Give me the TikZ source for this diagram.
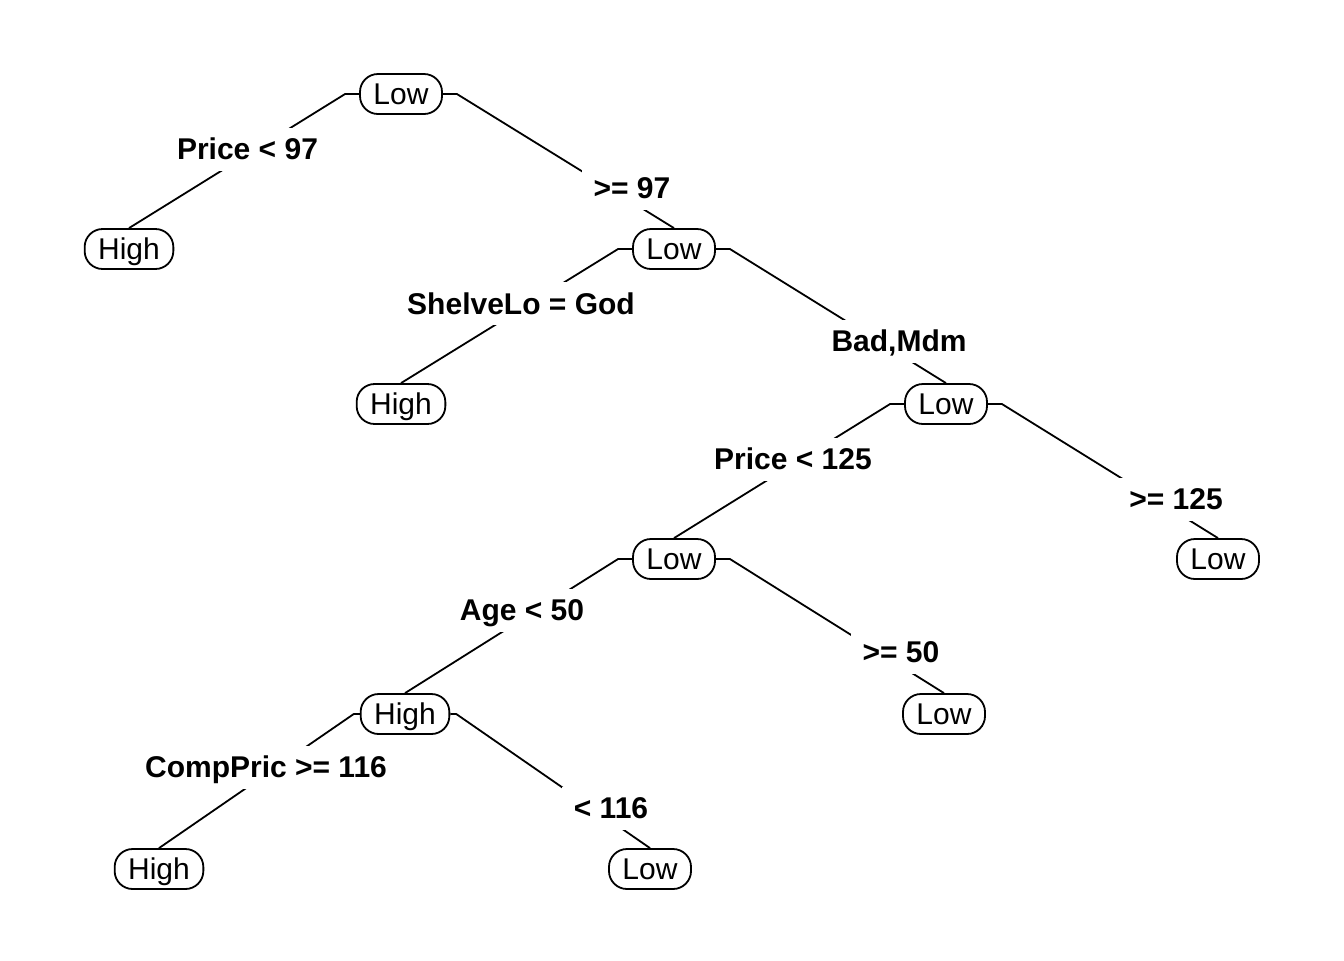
\documentclass[tikz,border=0pt]{standalone}
\usepackage{fontspec}
\setmainfont{Liberation Sans}
\usepackage{tikz}
\usetikzlibrary{positioning,shapes}

\tikzset{
    leaf/.style={draw, line width=0.9pt, rounded corners=9pt, fill=white,
        inner xsep=6.75pt, inner ysep=0pt, minimum height=20pt,
        text height=10.7pt, text depth=0pt,
        font=\fontsize{15pt}{18pt}\selectfont},
    split/.style={fill=white, inner xsep=6pt, inner ysep=5.4pt,
        text height=10.7pt, text depth=0pt,
        font=\fontsize{15pt}{18pt}\selectfont\bfseries},
    branch/.style={line width=0.9pt}
}

\begin{document}
\begin{tikzpicture}[x=0.5pt,y=-0.5pt]
    \useasboundingbox (0,0) rectangle (1344,960);
    % row 1
    \node[leaf] (n1) at (401,94) {Low};
    % row 2
    \node[leaf] (n2) at (129,249) {High};
    \node[leaf] (n3) at (674,249) {Low};
    % row 3
    \node[leaf] (n4) at (401,404) {High};
    \node[leaf] (n5) at (946,404) {Low};
    % row 4
    \node[leaf] (n6) at (674,559) {Low};
    \node[leaf] (n7) at (1218,559) {Low};
    % row 5
    \node[leaf] (n8) at (405,714) {High};
    \node[leaf] (n9) at (944,714) {Low};
    % row 6
    \node[leaf] (n10) at (159,869) {High};
    \node[leaf] (n11) at (650,869) {Low};

    % branches
    \draw[branch] (n1.west) -- ++(-14,0) -- (n2.north);
    \draw[branch] (n1.east) -- ++(14,0) -- (n3.north);
    \draw[branch] (n3.west) -- ++(-14,0) -- (n4.north);
    \draw[branch] (n3.east) -- ++(14,0) -- (n5.north);
    \draw[branch] (n5.west) -- ++(-14,0) -- (n6.north);
    \draw[branch] (n5.east) -- ++(14,0) -- (n7.north);
    \draw[branch] (n6.west) -- ++(-14,0) -- (n8.north);
    \draw[branch] (n6.east) -- ++(14,0) -- (n9.north);
    \draw[branch] (n8.west) -- ++(-6,0) -- (n10.north);
    \draw[branch] (n8.east) -- ++(6,0) -- (n11.north);

    % split labels
    \node[split] (sPriceLo) at (247.5,149) {Price < 97};
    \node[split] (sPriceHi) at (632,188) {>= 97};
    \node[split] (sShelve) at (521,303.5) {ShelveLo = God};
    \node[split] (sBad) at (899,341) {Bad,Mdm};
    \node[split] (sPriceLo2) at (793,459) {Price < 125};
    \node[split] (sPriceHi2) at (1176,499) {>= 125};
    \node[split] (sAgeLo) at (522,610) {Age < 50};
    \node[split] (sAgeHi) at (901,652) {>= 50};
    \node[split] (sCompHi) at (266,767) {CompPric >= 116};
    \node[split] (sCompLo) at (611,808) {< 116};
\end{tikzpicture}
\end{document}
